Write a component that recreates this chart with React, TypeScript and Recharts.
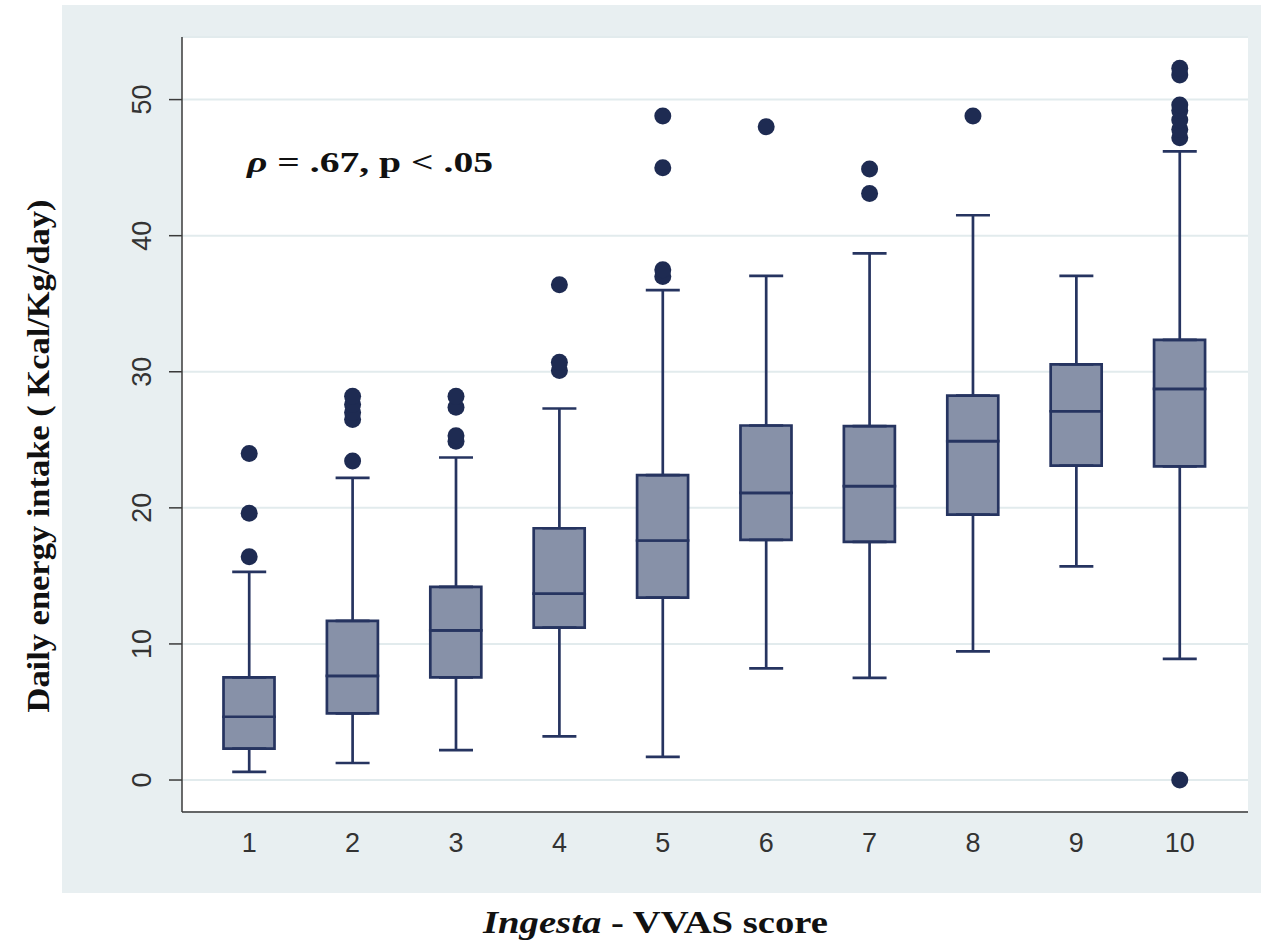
import React from 'react';
import {
  ComposedChart,
  Bar,
  Scatter,
  ErrorBar,
  XAxis,
  YAxis,
  CartesianGrid,
} from 'recharts';

// VVAS score categories and the box-plot summaries
const scores = [1, 2, 3, 4, 5, 6, 7, 8, 9, 10];
const lowerWhisker = [0.6, 1.25, 2.2, 3.2, 1.7, 8.2, 7.5, 9.45, 15.7, 8.9];
const q1 = [2.3, 4.9, 7.55, 11.2, 13.4, 17.65, 17.5, 19.5, 23.1, 23.05];
const medians = [4.65, 7.65, 11.0, 13.7, 17.6, 21.1, 21.6, 24.9, 27.1, 28.75];
const q3 = [7.55, 11.7, 14.2, 18.5, 22.4, 26.05, 26.0, 28.25, 30.55, 32.35];
const upperWhisker = [15.3, 22.2, 23.7, 27.3, 36.0, 37.05, 38.7, 41.5, 37.05, 46.2];

const outliers: number[][] = [
  [16.4, 19.6, 24.0],
  [23.45, 26.5, 27.0, 27.6, 28.2],
  [24.9, 25.3, 27.4, 28.2],
  [30.1, 30.7, 36.4],
  [37.0, 37.5, 45.0, 48.8],
  [48.0],
  [43.1, 44.9],
  [48.8],
  [],
  [0, 47.2, 47.8, 48.5, 49.2, 49.6, 51.8, 52.3],
];

const yTicks = [0, 10, 20, 30, 40, 50];

const NAVY = '#263460';
const BOX_FILL = '#8791a8';
const DOT = '#1e2b52';
const SERIF = 'Liberation Serif, Times New Roman, serif';
const SANS = 'Liberation Sans, Arial, sans-serif';

const boxData = scores.map((x, i) => ({
  x,
  base: q1[i],
  lowerHalf: medians[i] - q1[i],
  upperHalf: q3[i] - medians[i],
}));

// two whisker stubs per box: q3 -> upper, q1 -> lower
const whiskerData = scores.flatMap((x, i) => [
  { x, y: q3[i], err: [0, upperWhisker[i] - q3[i]] },
  { x, y: q1[i], err: [q1[i] - lowerWhisker[i], 0] },
]);

const outlierData = scores.flatMap((x, i) => outliers[i].map((y) => ({ x, y })));

const YTick = (props: any) => {
  const { x, y, payload } = props;
  return (
    <text
      transform={`translate(${x - 25},${y}) rotate(-90)`}
      textAnchor="middle"
      dominantBaseline="central"
      fontFamily={SANS}
      fontSize={27}
      fill="#333"
    >
      {payload.value}
    </text>
  );
};

const XTick = (props: any) => {
  const { x, y, payload } = props;
  return (
    <text
      x={x}
      y={y + 23}
      textAnchor="middle"
      dominantBaseline="central"
      fontFamily={SANS}
      fontSize={27}
      fill="#333"
    >
      {payload.value}
    </text>
  );
};

export default function App() {
  return (
    <div style={{ position: 'absolute', left: 0, top: 0, width: 1261, height: 945, background: '#fff' }}>
      <div
        style={{ position: 'absolute', left: 62, top: 5, width: 1199, height: 888, background: '#e8eff1' }}
      />
      <div style={{ position: 'absolute', left: 0, top: 0 }}>
        <ComposedChart
          width={1261}
          height={945}
          data={boxData}
          margin={{ top: 37, right: 13, bottom: 73, left: 0 }}
        >
          <CartesianGrid vertical={false} fill="#fff" stroke="#e2ebed" strokeWidth={2} />
          <XAxis
            type="number"
            dataKey="x"
            domain={[0.35, 10.66]}
            allowDataOverflow
            ticks={scores}
            height={60}
            tickLine={false}
            axisLine={{ stroke: '#3a3a3a', strokeWidth: 1.5 }}
            tick={<XTick />}
          />
          <YAxis
            type="number"
            domain={[-2.35, 54.6]}
            allowDataOverflow
            ticks={yTicks}
            width={182}
            tickSize={13}
            tickLine={{ stroke: '#3a3a3a', strokeWidth: 1.5 }}
            axisLine={{ stroke: '#3a3a3a', strokeWidth: 1.5 }}
            tick={<YTick />}
          />
          <Scatter data={whiskerData} dataKey="y" shape={() => <g />} isAnimationActive={false}>
            <ErrorBar
              dataKey="err"
              direction="y"
              width={17}
              stroke={NAVY}
              strokeWidth={2.7}
              isAnimationActive={false}
            />
          </Scatter>
          <Bar dataKey="base" stackId="box" fill="transparent" barSize={51} isAnimationActive={false} />
          <Bar
            dataKey="lowerHalf"
            stackId="box"
            fill={BOX_FILL}
            stroke={NAVY}
            strokeWidth={2.7}
            barSize={51}
            isAnimationActive={false}
          />
          <Bar
            dataKey="upperHalf"
            stackId="box"
            fill={BOX_FILL}
            stroke={NAVY}
            strokeWidth={2.7}
            barSize={51}
            isAnimationActive={false}
          />
          <Scatter
            data={outlierData}
            dataKey="y"
            isAnimationActive={false}
            shape={(p: any) => <circle cx={p.cx} cy={p.cy} r={8.5} fill={DOT} />}
          />
        </ComposedChart>
      </div>
      <svg
        width={1261}
        height={945}
        style={{ position: 'absolute', left: 0, top: 0, pointerEvents: 'none' }}
      >
        <text
          transform="translate(38,456) rotate(-90)"
          textAnchor="middle"
          dominantBaseline="central"
          fontFamily={SERIF}
          fontWeight="bold"
          fontSize={32}
          textLength={513}
          lengthAdjust="spacingAndGlyphs"
          fill="#111"
        >
          Daily energy intake ( Kcal/Kg/day)
        </text>
        <text
          x={483}
          y={933}
          fontFamily={SERIF}
          fontWeight="bold"
          fontSize={32}
          textLength={345}
          lengthAdjust="spacingAndGlyphs"
          fill="#111"
        >
          <tspan fontStyle="italic">Ingesta</tspan> - VVAS score
        </text>
        <text
          x={247}
          y={172}
          fontFamily={SERIF}
          fontWeight="bold"
          fontSize={30}
          textLength={246}
          lengthAdjust="spacingAndGlyphs"
          fill="#111"
        >
          <tspan fontStyle="italic">ρ</tspan> = .67, p &lt; .05
        </text>
      </svg>
    </div>
  );
}
